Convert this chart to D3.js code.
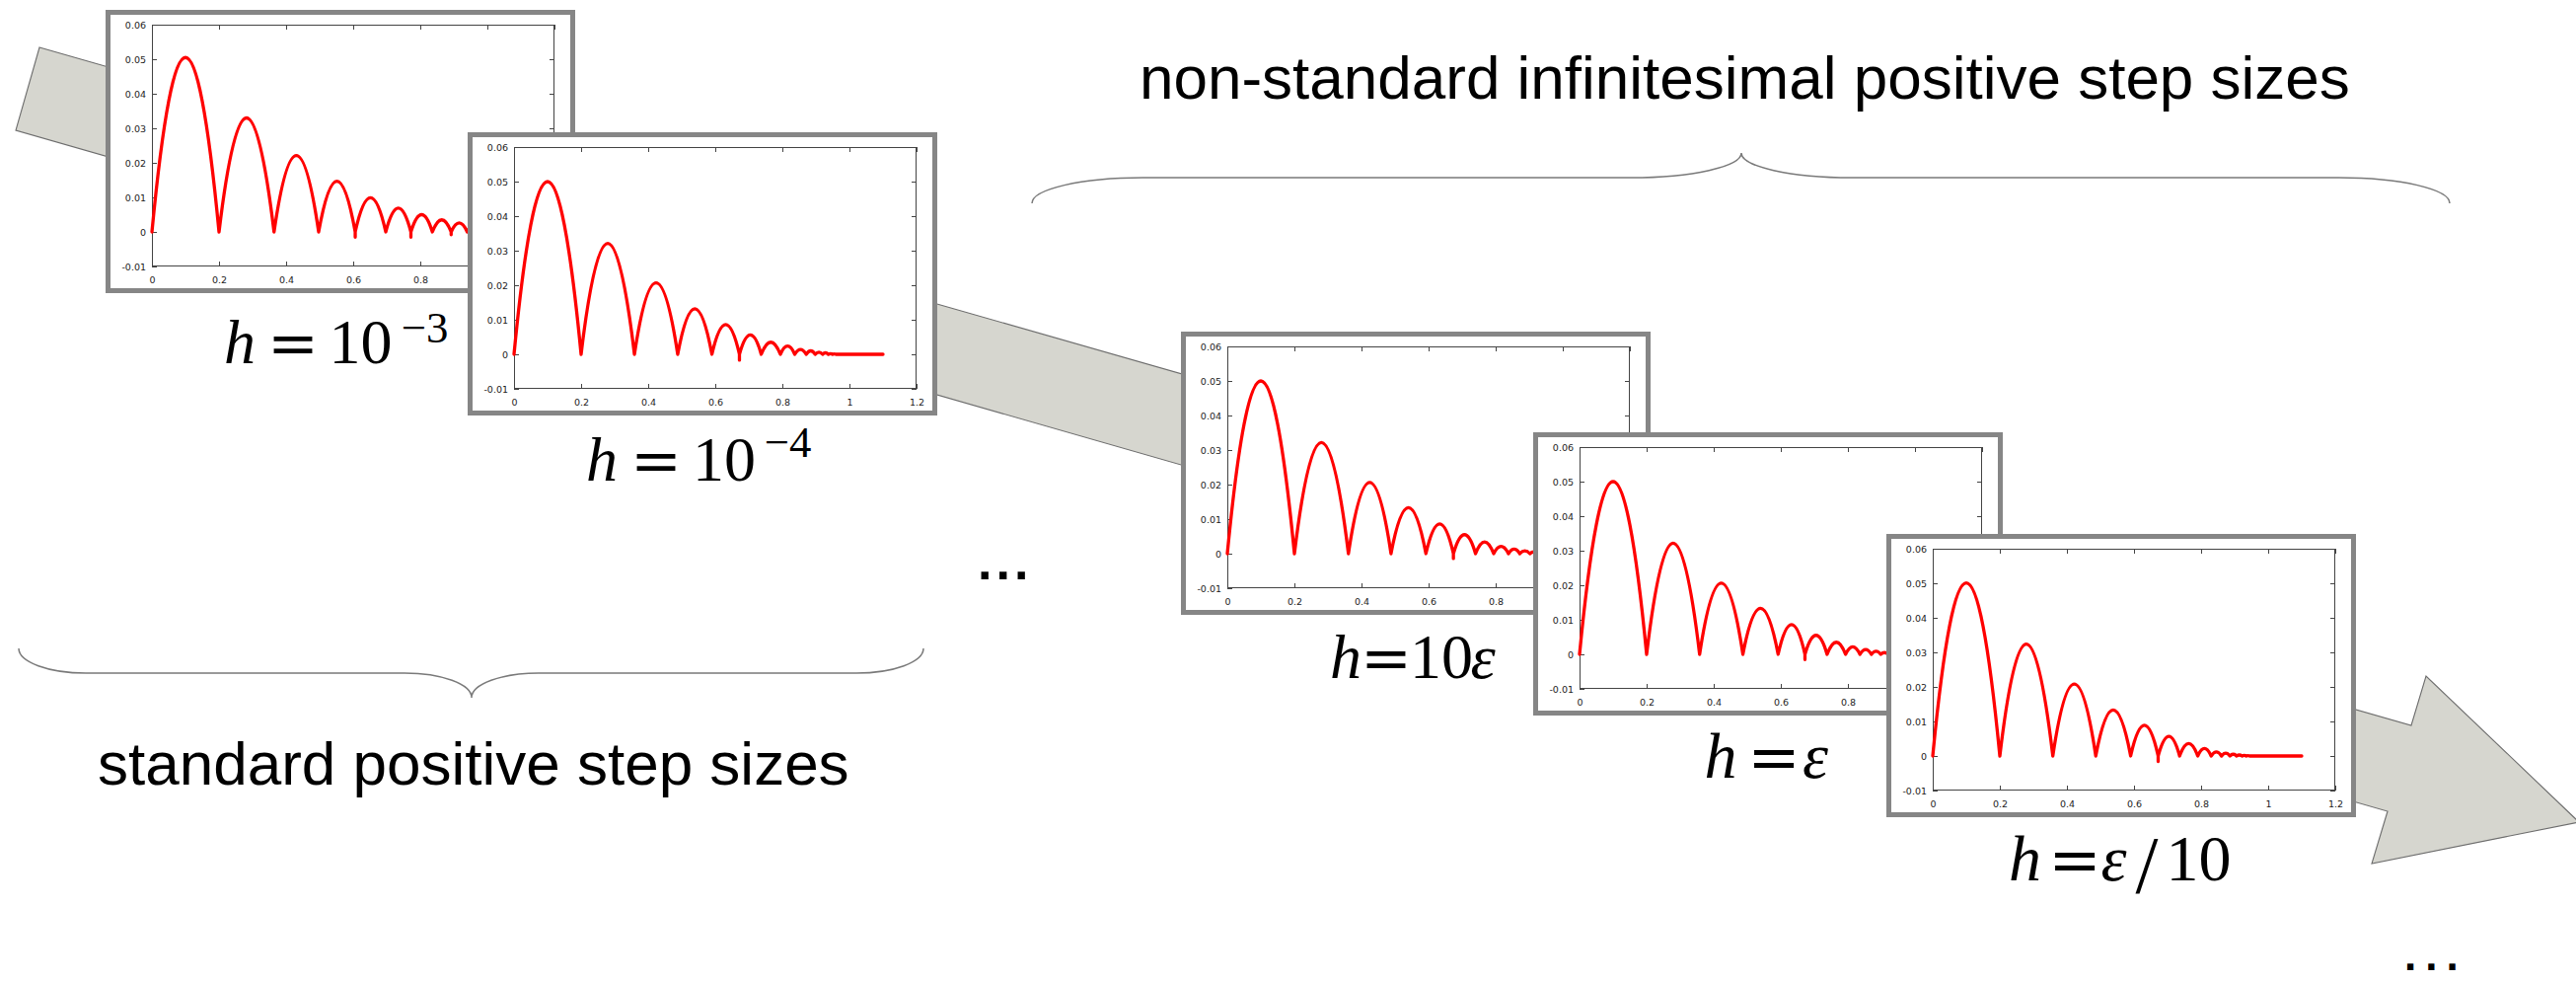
<!DOCTYPE html>
<html><head><meta charset="utf-8">
<script src="https://cdn.jsdelivr.net/npm/d3@7"></script>
<style>html,body{margin:0;padding:0;background:#fff;} svg{display:block}</style>
</head><body>
<svg id="c" width="2611" height="995"></svg>
<script>
// ---- data ----
const xTicks = [0, 0.2, 0.4, 0.6, 0.8, 1, 1.2];
const yTicks = [-0.01, 0, 0.01, 0.02, 0.03, 0.04, 0.05, 0.06];
const xDomain = [0, 1.2];
const yDomain = [-0.01, 0.06];
const tailEnd = 1.1;

// h = 10^-3
const zerosA = [0, 0.2, 0.364, 0.497, 0.606, 0.697, 0.772, 0.836, 0.892, 0.94, 0.982, 1.02, 1.054];
const peaksA = [0.0505, 0.033, 0.0221, 0.0147, 0.0099, 0.0069, 0.005, 0.0035, 0.0026, 0.002, 0.0015, 0.001];
const dipsA  = [0, 0, 0, 0, -0.0015, 0, -0.0015, 0, -0.0008, 0, 0, 0, 0];
// h = 10^-4
const zerosB = [0, 0.2, 0.359, 0.488, 0.59, 0.672, 0.737, 0.794, 0.837, 0.871, 0.898, 0.92, 0.937, 0.95, 0.96];
const peaksB = [0.05, 0.0321, 0.0207, 0.0132, 0.0086, 0.0056, 0.0035, 0.0024, 0.0014, 0.001, 0.0006, 0.0004, 0.0002, 0.0001];
const dipsB  = [0, 0, 0, 0, 0, -0.0017, 0, 0, 0, 0, 0, 0, 0, 0, 0];
// h = 10 eps
const zerosC = [0, 0.2, 0.361, 0.488, 0.592, 0.674, 0.74, 0.794, 0.838, 0.872, 0.902, 0.924, 0.94, 0.953];
const peaksC = [0.05, 0.0322, 0.0206, 0.0133, 0.0086, 0.0055, 0.0034, 0.0021, 0.0013, 0.0008, 0.0005, 0.0003, 0.0002];
const dipsC  = [0, 0, 0, 0, 0, -0.0014, 0, 0, 0, 0, 0, 0, 0, 0];
// h = eps
const zerosD = [0, 0.2, 0.358, 0.487, 0.592, 0.672, 0.738, 0.793, 0.836, 0.87, 0.898, 0.92, 0.937, 0.95];
const peaksD = [0.05, 0.0322, 0.0206, 0.0133, 0.0086, 0.0055, 0.0035, 0.0022, 0.0014, 0.0009, 0.0005, 0.0003, 0.0002];
const dipsD  = [0, 0, 0, 0, 0, -0.0015, 0, 0, 0, 0, 0, 0, 0, 0];
// h = eps/10
const zerosE = [0, 0.2, 0.358, 0.486, 0.59, 0.672, 0.736, 0.79, 0.83, 0.861, 0.886, 0.906, 0.922, 0.935, 0.945];
const peaksE = [0.0501, 0.0324, 0.0208, 0.0133, 0.0089, 0.0057, 0.0036, 0.0022, 0.0012, 0.0008, 0.0005, 0.0003, 0.0002, 0.0001];
const dipsE  = [0, 0, 0, 0, 0, -0.0016, 0, 0, 0, 0, 0, 0, 0, 0, 0];

const labelA = [["h","var"],["=","op"],["10","num"],["−3","sup"]];
const labelB = [["h","var"],["=","op"],["10","num"],["−4","sup"]];
const labelC = [["h","var"],["=","op"],["10","num"],["ε","var"]];
const labelD = [["h","var"],["=","op"],["ε","var"]];
const labelE = [["h","var"],["=","op"],["ε","var"],["/","slash"],["10","num"]];

const titleTop = "non-standard infinitesimal positive step sizes";
const titleBottom = "standard positive step sizes";
const ellipsis = "...";

// ---- layout ----
const svg = d3.select("#c");
const PW = 476, PH = 287, IX = 47, IY = 15, IW = 408, IH = 245;

// very faint floor shadow
const defs = svg.append("defs");
const rg = defs.append("radialGradient").attr("id","shade").attr("cx","50%").attr("cy","100%").attr("r","50%");
rg.append("stop").attr("offset","0%").attr("stop-color","#f4f4f4").attr("stop-opacity",1);
rg.append("stop").attr("offset","70%").attr("stop-color","#f9f9f9").attr("stop-opacity",0.8);
rg.append("stop").attr("offset","100%").attr("stop-color","#ffffff").attr("stop-opacity",0);
svg.append("ellipse").attr("cx",1283).attr("cy",1000).attr("rx",640).attr("ry",45).attr("fill","url(#shade)");

// big arrow (behind everything)
const arrowPts = [[40,48],[2444,735],[2459,685],[2614,833],[2404,875],[2420,822],[16,132]];
svg.append("path")
  .attr("d", d3.line()(arrowPts) + "Z")
  .attr("fill", "#d6d6cf").attr("stroke", "#6d6d6d").attr("stroke-width", 1.1);

const x = d3.scaleLinear().domain(xDomain).range([0, IW]);
const y = d3.scaleLinear().domain(yDomain).range([IH, 0]);

const panels = [
  {ox:107, oy:10,  zeros:zerosA, peaks:peaksA, dips:dipsA, label:labelA, base:368, sup:347, fs:64,
   cx:[243,297,365.5,430.5]},
  {ox:474, oy:134, zeros:zerosB, peaks:peaksB, dips:dipsB, label:labelB, base:487, sup:463, fs:64,
   cx:[610,665,734,798.5]},
  {ox:1197, oy:336, zeros:zerosC, peaks:peaksC, dips:dipsC, label:labelC, base:687, fs:64,
   cx:[1364,1405,1461,1503]},
  {ox:1554, oy:438, zeros:zerosD, peaks:peaksD, dips:dipsD, label:labelD, base:788, fs:66,
   cx:[1744,1798,1840]},
  {ox:1912, oy:541, zeros:zerosE, peaks:peaksE, dips:dipsE, label:labelE, base:892, fs:66,
   cx:[2052.5,2103,2142.5,2176,2228.5]}
];

const fmtY = d => d === 0 ? "0" : d.toFixed(2);
const fmtX = d => String(d);

panels.forEach(P => {
  const g = svg.append("g").attr("transform", `translate(${P.ox},${P.oy})`);
  g.append("rect").attr("x",2.5).attr("y",2.5).attr("width",PW-5).attr("height",PH-5)
    .attr("fill","#fff").attr("stroke","#868686").attr("stroke-width",5);
  const pg = g.append("g").attr("transform", `translate(${IX},${IY})`);

  const axStyle = sel => {
    sel.select(".domain").remove();
    sel.selectAll(".tick line").attr("stroke","#444").attr("stroke-width",1);
    sel.selectAll("text").attr("fill","#222").style("font-family","DejaVu Sans").style("font-size","9.5px");
  };
  const noText = sel => sel.selectAll("text").remove();
  pg.append("g").attr("transform",`translate(0,${IH})`)
    .call(d3.axisBottom(x).tickValues(xTicks).tickSizeInner(-5).tickSizeOuter(0).tickPadding(10).tickFormat(fmtX))
    .call(axStyle);
  pg.append("g")
    .call(d3.axisTop(x).tickValues(xTicks).tickSizeInner(-5).tickSizeOuter(0))
    .call(axStyle).call(noText);
  pg.append("g")
    .call(d3.axisLeft(y).tickValues(yTicks).tickSizeInner(-5).tickSizeOuter(0).tickPadding(6).tickFormat(fmtY))
    .call(axStyle);
  pg.append("g").attr("transform",`translate(${IW},0)`)
    .call(d3.axisRight(y).tickValues(yTicks).tickSizeInner(-5).tickSizeOuter(0))
    .call(axStyle).call(noText);
  pg.append("rect").attr("x",0.5).attr("y",0.5).attr("width",IW-1).attr("height",IH-1)
    .attr("fill","none").attr("stroke","#444").attr("stroke-width",1);

  const p = d3.path();
  p.moveTo(x(P.zeros[0]), y(0));
  P.peaks.forEach((pk, i) => {
    const x0 = P.zeros[i], x1 = P.zeros[i+1];
    p.quadraticCurveTo(x((x0+x1)/2), y(2*pk), x(x1), y(0));
    if (P.dips[i+1] < 0) { p.lineTo(x(x1), y(P.dips[i+1])); p.lineTo(x(x1), y(0)); }
  });
  p.lineTo(x(tailEnd), y(0));
  pg.append("path").attr("d", p.toString()).attr("fill","none")
    .attr("stroke","#ff0000").attr("stroke-width",3.3).attr("stroke-linejoin","round").attr("stroke-linecap","round");
});

// labels: one text element per label, tokens as absolutely placed tspans
panels.forEach(P => {
  const tx = svg.append("text").attr("text-anchor","middle").attr("fill","#000")
    .style("font-family","Liberation Serif").style("font-size", P.fs+"px");
  P.label.forEach(([t, kind], i) => {
    const ts = tx.append("tspan").attr("x", P.cx[i]).text(t);
    if (kind === "var") {
      ts.attr("y", P.base).style("font-style","italic");
    } else if (kind === "num") {
      ts.attr("y", P.base);
    } else if (kind === "op") {
      ts.attr("y", P.base + 1).style("font-family","DejaVu Serif").style("font-size", (P.fs*0.97)+"px");
    } else if (kind === "sup") {
      ts.attr("y", P.sup).style("font-size", (P.fs*0.7)+"px");
    } else if (kind === "slash") {
      ts.attr("y", P.base + 12).style("font-size", (P.fs*1.25)+"px");
    }
  });
});

// braces
const braceTop = `M1046,206 A112,26 0 0 1 1158,180 L1653,180 A112,25 0 0 0 1765,155 A112,25 0 0 0 1877,180 L2371,180 A112,26 0 0 1 2483,206`;
const braceBot = `M19,657 A68,25 0 0 0 87,682 L410,682 A68,25 0 0 1 478,707 A68,25 0 0 1 546,682 L868,682 A68,25 0 0 0 936,657`;
[braceTop, braceBot].forEach(d => svg.append("path").attr("d", d).attr("fill","none").attr("stroke","#7a7a7a").attr("stroke-width",1.5));

svg.append("text").attr("x",1155).attr("y",100).text(titleTop)
  .style("font-family","Liberation Sans").style("font-size","62px").attr("fill","#000");
svg.append("text").attr("x",99).attr("y",795).text(titleBottom)
  .style("font-family","Liberation Sans").style("font-size","62px").attr("fill","#000");

[[991,587,52,4],[2437,983,44,9]].forEach(([ex,ey,fs,ls]) => {
  svg.append("text").attr("x",ex).attr("y",ey).text(ellipsis)
    .style("font-family","Liberation Sans").style("font-weight","bold").style("font-size",fs+"px")
    .style("letter-spacing",ls+"px").attr("fill","#000");
});
</script>
</body></html>
